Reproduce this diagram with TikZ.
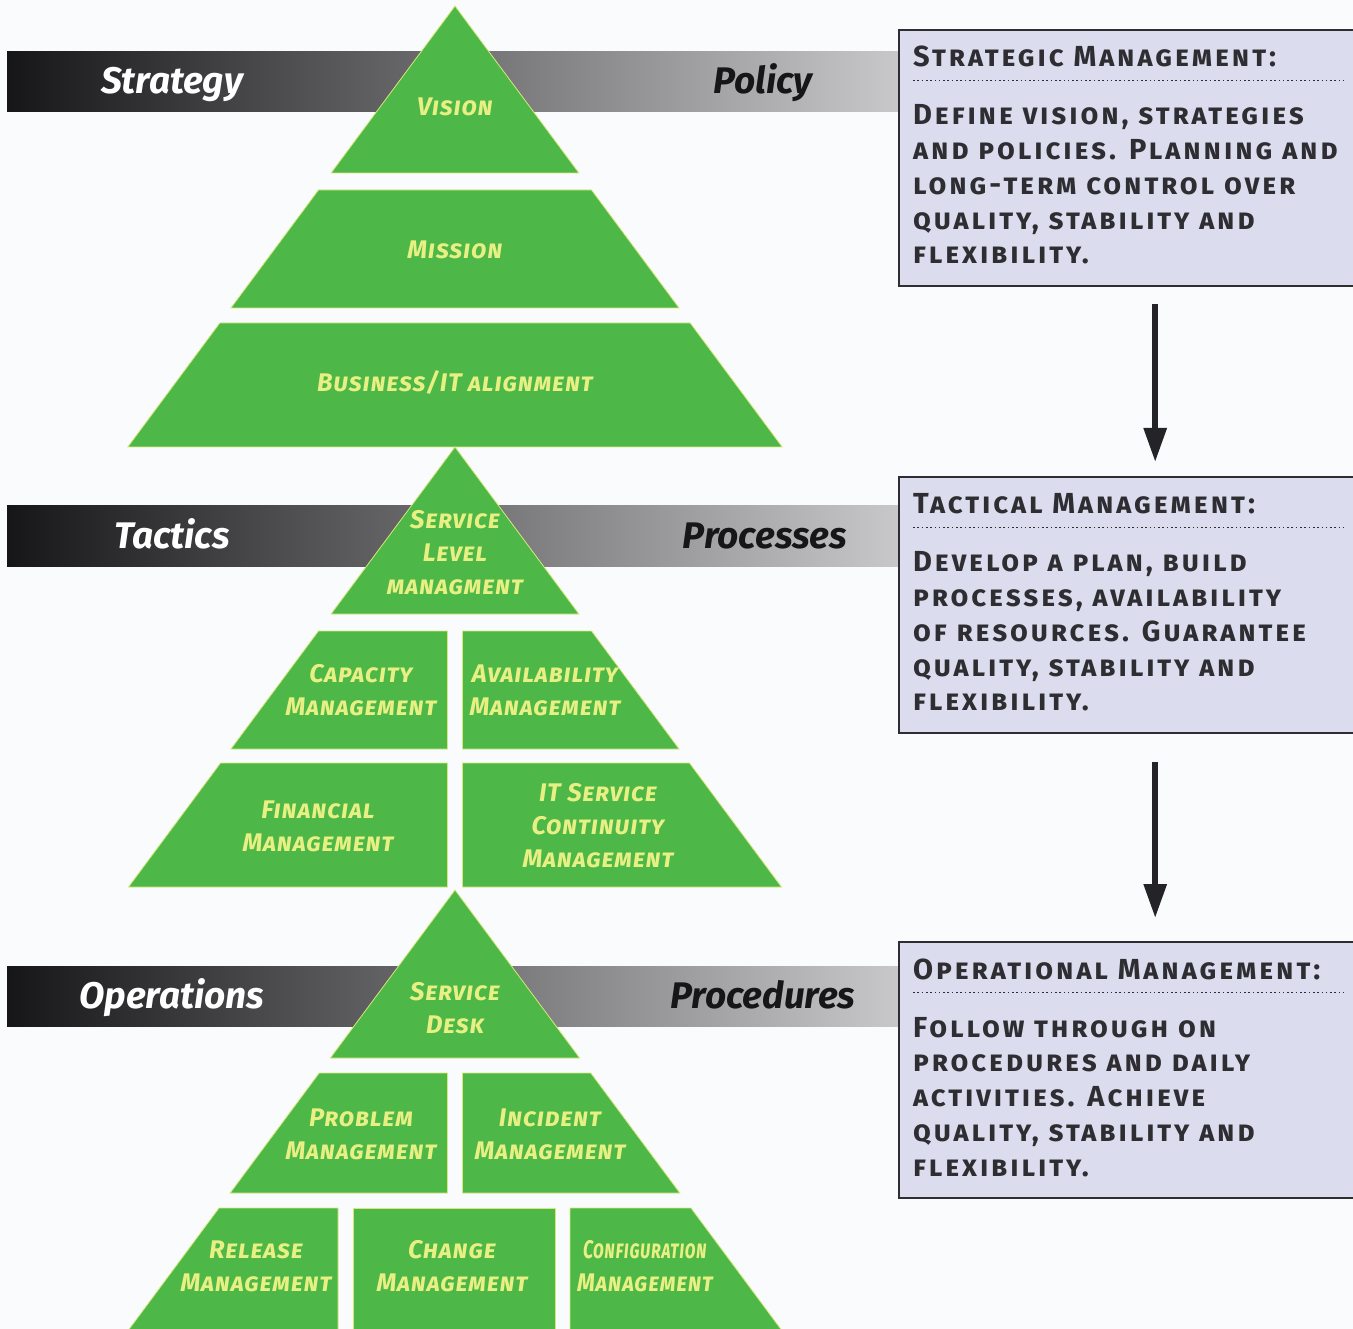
\documentclass[tikz,border=0pt]{standalone}
\usepackage{fontspec}
\usetikzlibrary{arrows.meta}

\newfontfamily\bannerfont{Fira Sans}
\newfontfamily\pyrfont{Fira Sans}[Letters=SmallCaps, LetterSpace=3]
\newfontfamily\boxfont{Fira Sans}[Letters=SmallCaps, LetterSpace=10]

\definecolor{pagebg}{RGB}{250,251,253}
\definecolor{pyrgreen}{RGB}{77,183,72}
\definecolor{pyredge}{RGB}{214,232,120}
\definecolor{pyrtext}{RGB}{232,240,132}
\definecolor{boxfill}{RGB}{219,220,237}
\definecolor{boxline}{RGB}{45,45,50}
\definecolor{bandleft}{RGB}{22,22,24}
\definecolor{bandright}{RGB}{200,200,202}

% stacked lines whose reference point is the first baseline
\newcommand\stacklines[1]{\vtop{\let\\\cr\halign{##\hfil\cr#1\crcr}}}

\tikzset{
  pyr/.style={fill=pyrgreen, draw=pyredge, line width=0.8pt, line join=miter},
  band/.style={left color=bandleft, right color=bandright},
  bannerlight/.style={anchor=base, text=white, inner sep=0pt,
    font=\bannerfont\bfseries\itshape\fontsize{37}{37}\selectfont},
  bannerdark/.style={anchor=base, text=bandleft, inner sep=0pt,
    font=\bannerfont\bfseries\itshape\fontsize{37}{37}\selectfont},
  plabel/.style={align=center, text=pyrtext, inner sep=0pt,
    font=\pyrfont\bfseries\itshape\fontsize{25.5}{33}\selectfont},
  infobox/.style={draw=boxline, fill=boxfill, line width=2.4pt,
    minimum width=455pt, minimum height=256pt, anchor=north west, inner sep=0pt},
  boxtitle/.style={anchor=base west, inner sep=0pt, text=boxline,
    font=\boxfont\bfseries\fontsize{29}{34.75}\selectfont},
  boxbody/.style={anchor=base west, inner sep=0pt, text=boxline,
    font=\boxfont\bfseries\fontsize{29}{34.75}\selectfont},
  dotrule/.style={boxline, line width=1.8pt, dash pattern=on 1.6pt off 2.7pt},
  flowarrow/.style={line width=6pt, boxline!80!black,
    -{Triangle[length=34pt,width=22pt]}}
}

% one band of a pyramid: apex y, top y, bottom y, left limit, right limit
\def\slope{0.742}
\newcommand\piece[5]{%
  \pgfmathsetmacro\ptl{max(455-\slope*(#2-#1),#4)}%
  \pgfmathsetmacro\ptr{min(455+\slope*(#2-#1),#5)}%
  \pgfmathsetmacro\pbl{max(455-\slope*(#3-#1),#4)}%
  \pgfmathsetmacro\pbr{min(455+\slope*(#3-#1),#5)}%
  \path[pyr] (\ptl,#2) -- (\ptr,#2) -- (\pbr,#3) -- (\pbl,#3) -- cycle;
}

\begin{document}
\begin{tikzpicture}[x=1pt,y=-1pt]
\useasboundingbox (0,0) rectangle (1353,1329);
\fill[pagebg] (0,0) rectangle (1353,1329);

% grey bands behind the pyramids
\shade[band] (7,52) rectangle (898,112);
\shade[band] (7,506) rectangle (898,566);
\shade[band] (7,966) rectangle (898,1026);

% strategic pyramid
\piece{6}{6}{173}{-1000}{2000}
\piece{6}{190}{308}{-1000}{2000}
\piece{6}{323}{447}{-1000}{2000}

% tactical pyramid
\piece{447}{447}{614}{-1000}{2000}
\piece{447}{631}{749}{-1000}{447.5}
\piece{447}{631}{749}{462.5}{2000}
\piece{447}{763}{887}{-1000}{447.5}
\piece{447}{763}{887}{462.5}{2000}

% operational pyramid
\piece{890}{890}{1058}{-1000}{2000}
\piece{890}{1073}{1193}{-1000}{447.5}
\piece{890}{1073}{1193}{462.5}{2000}
\piece{890}{1208}{1335}{-1000}{338}
\piece{890}{1208}{1335}{353}{555.5}
\piece{890}{1208}{1335}{570}{2000}

% band captions
\node[bannerlight] (strategy) at (172,94) {Strategy};
\node[bannerdark] (policy) at (763,94) {Policy};
\node[bannerlight] (tactics) at (172,548) {Tactics};
\node[bannerdark] (processes) at (765,548) {Processes};
\node[bannerlight] (operations) at (172,1008) {Operations};
\node[bannerdark] (procedures) at (763,1008) {Procedures};

% pyramid captions
\node[plabel] (vision) at (455,107) {Vision};
\node[plabel] (mission) at (455,250) {Mission};
\node[plabel] (bitalign) at (455,383) {Business/IT alignment};
\node[plabel] (slm) at (455,553) {Service\\Level\\managment};
\node[plabel] (capm) at (361,690) {Capacity\\Management};
\node[plabel] (avm) at (545,690) {Availability\\Management};
\node[plabel] (finm) at (318,826) {Financial\\Management};
\node[plabel] (itscm) at (598,826) {IT Service\\Continuity\\Management};
\node[plabel] (sdesk) at (455,1008) {Service\\Desk};
\node[plabel] (probm) at (361,1134) {Problem\\Management};
\node[plabel] (incm) at (550,1134) {Incident\\Management};
\node[plabel] (relm) at (256,1266) {Release\\Management};
\node[plabel] (chgm) at (452,1266) {Change\\Management};
\node[plabel] (cfgm) at (645,1266) {\scalebox{0.7}[1]{Configuration}\\\scalebox{0.9}[1]{Management}};

% management boxes
\node[infobox] (box1) at (898,29) {};
\node[infobox] (box2) at (898,476) {};
\node[infobox] (box3) at (898,941) {};

\node[boxtitle] (t1) at ([xshift=15pt,yshift=-38pt]box1.north west) {Strategic Management:};
\draw[dotrule] ([xshift=15pt,yshift=-51.5pt]box1.north west) -- ([xshift=-12pt,yshift=-51.5pt]box1.north east);
\node[boxbody] (b1) at ([xshift=15pt,yshift=-96pt]box1.north west)
  {\stacklines{Define vision, strategies\\and policies. Planning and\\long-term control over\\quality, stability and\\flexibility.}};

\node[boxtitle] (t2) at ([xshift=15pt,yshift=-38pt]box2.north west) {Tactical Management:};
\draw[dotrule] ([xshift=15pt,yshift=-51.5pt]box2.north west) -- ([xshift=-12pt,yshift=-51.5pt]box2.north east);
\node[boxbody] (b2) at ([xshift=15pt,yshift=-96pt]box2.north west)
  {\stacklines{Develop a plan, build\\processes, availability\\of resources. Guarantee\\quality, stability and\\flexibility.}};

\node[boxtitle] (t3) at ([xshift=15pt,yshift=-38pt]box3.north west) {Operational Management:};
\draw[dotrule] ([xshift=15pt,yshift=-51.5pt]box3.north west) -- ([xshift=-12pt,yshift=-51.5pt]box3.north east);
\node[boxbody] (b3) at ([xshift=15pt,yshift=-96pt]box3.north west)
  {\stacklines{Follow through on\\procedures and daily\\activities. Achieve\\quality, stability and\\flexibility.}};

% flow between the boxes
\draw[flowarrow, shorten <=17pt, shorten >=14pt] ([xshift=28.5pt]box1.south) -- ([xshift=28.5pt]box2.north);
\draw[flowarrow, shorten <=28pt, shorten >=23pt] ([xshift=28.5pt]box2.south) -- ([xshift=28.5pt]box3.north);
\end{tikzpicture}
\end{document}
